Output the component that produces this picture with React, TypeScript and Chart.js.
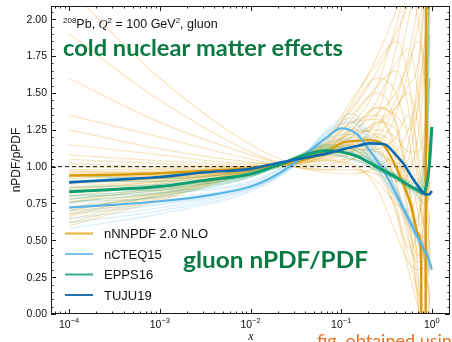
import React, { useEffect, useRef } from "react";
import { Chart, registerables } from "chart.js";

Chart.register(...registerables);

// ---------- axis settings ----------
const X_MIN = Math.pow(10, -4.2);
const X_MAX = Math.pow(10, 0.2);
const Y_MIN = 0;
const Y_MAX = 2.09;

const yTicks = [0, 0.25, 0.5, 0.75, 1.0, 1.25, 1.5, 1.75, 2.0];
const yTickLabels = ["0.00", "0.25", "0.50", "0.75", "1.00", "1.25", "1.50", "1.75", "2.00"];
const xTicks = [1e-4, 1e-3, 1e-2, 1e-1, 1];
const xTickExponents = ["\u22124", "\u22123", "\u22122", "\u22121", "0"];

// ---------- central curves ----------
const xCentral = [1e-4, 3e-4, 1e-3, 3e-3, 0.01, 0.02, 0.04, 0.07, 0.1, 0.15, 0.2, 0.3, 0.4, 0.5, 0.6, 0.7, 0.8, 0.9, 0.95, 1.0];
const nCTEQ15 = [0.723, 0.74, 0.765, 0.8, 0.865, 0.95, 1.08, 1.2, 1.26, 1.22, 1.12, 0.96, 0.82, 0.7, 0.6, 0.52, 0.45, 0.39, 0.35, 0.3];
const TUJU19 = [0.893, 0.91, 0.93, 0.96, 0.985, 1.025, 1.06, 1.09, 1.115, 1.14, 1.158, 1.152, 1.08, 1.01, 0.93, 0.87, 0.825, 0.81, 0.815, 0.835];
const EPPS16 = [0.83, 0.845, 0.865, 0.905, 0.95, 1.01, 1.08, 1.11, 1.1, 1.07, 1.03, 0.97, 0.93, 0.89, 0.86, 0.84, 0.82, 0.92, 1.05, 1.27];

const xNNPDF = [1e-4, 3e-4, 1e-3, 3e-3, 0.01, 0.02, 0.04, 0.07, 0.1, 0.15, 0.2, 0.3, 0.4, 0.5, 0.6, 0.7, 0.76, 0.8, 0.84, 0.87, 0.92, 1.0];
const nNNPDF20 = [0.94, 0.945, 0.955, 0.97, 0.99, 1.01, 1.05, 1.1, 1.16, 1.175, 1.18, 1.14, 1.0, 0.86, 0.72, 0.55, 0.4, -4, -4, 5, 6, 6];

// ---------- replicas ----------
const xReplica = [1e-4, 1e-3, 1e-2, 0.03, 0.07, 0.13, 0.25, 0.4, 0.55, 0.7, 0.85, 0.95];

const nnpdfReplicas = [
  [0.62, 0.78, 0.95, 1.02, 1.12, 1.25, 1.4, 1.3, 0.9, 0.3, -0.5, -1],
  [0.7, 0.82, 0.97, 1.03, 1.08, 1.1, 1.05, 0.85, 0.6, 0.4, 0.9, 2.5],
  [0.85, 0.9, 0.98, 1.05, 1.2, 1.45, 1.7, 1.85, 1.6, 1.0, 0.2, -0.5],
  [1.05, 1.02, 1.0, 1.02, 1.05, 1.0, 0.9, 0.75, 0.7, 0.85, 1.3, 2.2],
  [0.9, 0.93, 0.99, 1.04, 1.15, 1.3, 1.35, 1.1, 0.7, 0.2, -0.3, -0.8],
  [1.9, 1.45, 1.1, 1.0, 0.98, 1.05, 1.2, 1.4, 1.55, 1.7, 2.3, 3],
  [0.75, 0.85, 0.97, 1.02, 1.06, 1.08, 1.0, 0.7, 0.4, 0.15, 0.1, 0.4],
  [0.98, 0.98, 1.0, 1.05, 1.18, 1.4, 1.6, 1.5, 1.2, 0.8, 0.6, 1.2],
  [0.8, 0.88, 0.98, 1.03, 1.1, 1.2, 1.15, 0.95, 1.05, 1.4, 1.9, 2.4],
  [1.15, 1.08, 1.02, 1.02, 1.04, 1.02, 0.85, 0.55, 0.35, 0.3, 0.5, 1],
  [0.66, 0.8, 0.96, 1.04, 1.14, 1.22, 1.3, 1.45, 1.75, 2.1, 2.5, 3],
  [0.88, 0.92, 0.99, 1.04, 1.12, 1.28, 1.55, 1.95, 2.2, 2.0, 1.5, 1],
  [1.0, 0.99, 1.0, 1.03, 1.08, 1.12, 1.1, 0.9, 0.55, 0.1, -0.5, -1],
  [0.72, 0.84, 0.98, 1.05, 1.15, 1.22, 1.25, 1.2, 1.1, 1.1, 1.3, 1.6],
  [1.35, 1.2, 1.05, 1.0, 0.98, 0.98, 0.95, 0.9, 0.95, 1.2, 1.7, 2.2],
  [0.82, 0.89, 0.98, 1.04, 1.16, 1.35, 1.5, 1.3, 0.8, 0.4, 0.3, 0.6],
  [0.95, 0.96, 0.99, 1.02, 1.05, 1.1, 1.25, 1.6, 2.0, 2.3, 2.5, 2.2],
  [0.64, 0.79, 0.97, 1.05, 1.1, 1.15, 1.1, 1.0, 0.95, 0.7, 0.3, 0.1],
  [1.08, 1.04, 1.01, 1.02, 1.08, 1.2, 1.45, 1.7, 1.8, 1.5, 0.9, 0.4],
  [0.78, 0.86, 0.97, 1.03, 1.12, 1.18, 1.2, 1.05, 0.65, 0.1, -0.3, 0.2],
  [0.92, 0.94, 0.99, 1.03, 1.1, 1.25, 1.4, 1.35, 1.25, 1.4, 1.8, 2.5],
  [1.6, 1.3, 1.08, 1.0, 0.96, 0.95, 1.0, 1.1, 1.25, 1.5, 1.9, 2.4],
  [0.86, 0.91, 0.98, 1.04, 1.13, 1.25, 1.2, 0.9, 0.5, 0.35, 0.6, 1.3],
  [0.68, 0.81, 0.97, 1.06, 1.2, 1.38, 1.65, 1.9, 2.1, 2.3, 2.4, 2.6],
  [1.02, 1.0, 1.0, 1.03, 1.07, 1.15, 1.3, 1.25, 0.9, 0.55, 0.4, 0.7],
  [0.76, 0.86, 0.98, 1.03, 1.09, 1.12, 1.05, 0.8, 0.6, 0.65, 1.0, 1.6],
  [0.96, 0.97, 1.0, 1.04, 1.14, 1.32, 1.55, 1.65, 1.4, 0.9, 0.5, 0.3],
  [0.6, 0.77, 0.96, 1.04, 1.16, 1.3, 1.32, 1.15, 0.85, 0.6, 0.7, 1.1],
  [1.25, 1.12, 1.03, 1.01, 1.02, 1.05, 1.15, 1.35, 1.65, 1.95, 2.2, 2.4],
  [0.84, 0.9, 0.98, 1.05, 1.18, 1.42, 1.75, 2.05, 2.3, 2.5, 2.4, 2.0],
  [0.94, 0.95, 0.99, 1.02, 1.04, 1.05, 0.95, 0.7, 0.3, 0.05, -0.2, -0.5],
  [0.7, 0.83, 0.98, 1.05, 1.12, 1.2, 1.28, 1.4, 1.5, 1.3, 0.9, 0.6],
  [2.2, 1.6, 1.15, 1.02, 1.0, 1.1, 1.35, 1.8, 2.2, 2.4, 2.6, 2.8],
  [0.9, 0.92, 0.98, 1.04, 1.1, 1.15, 1.05, 0.75, 0.45, 0.6, 1.2, 2.0],
  [0.93, 0.94, 0.98, 1.03, 1.12, 1.24, 1.36, 1.5, 1.7, 1.85, 1.6, 0.8],
  [0.97, 0.96, 0.99, 1.03, 1.09, 1.16, 1.22, 1.1, 0.8, 0.5, 0.2, 0.5],
  [0.67, 0.81, 0.97, 1.04, 1.11, 1.16, 1.12, 1.02, 1.15, 1.6, 2.2, 2.6],
  [0.89, 0.92, 0.98, 1.03, 1.08, 1.11, 1.12, 1.2, 1.35, 1.1, 0.5, 0.0],
];

const nctegReplicas = [
  [0.62, 0.7, 0.84, 1.01, 1.24, 1.33, 1.1, 0.85, 0.66, 0.52, 0.4, 0.3],
  [0.8, 0.82, 0.89, 1.03, 1.17, 1.19, 0.98, 0.8, 0.66, 0.55, 0.46, 0.4],
  [0.68, 0.74, 0.85, 1.0, 1.22, 1.3, 1.08, 0.84, 0.64, 0.5, 0.38, 0.28],
  [0.76, 0.79, 0.88, 1.04, 1.19, 1.22, 1.0, 0.79, 0.63, 0.53, 0.45, 0.38],
  [0.58, 0.68, 0.83, 1.0, 1.25, 1.36, 1.12, 0.86, 0.68, 0.54, 0.41, 0.33],
  [0.84, 0.84, 0.9, 1.04, 1.16, 1.18, 0.97, 0.78, 0.62, 0.5, 0.4, 0.35],
  [0.7, 0.75, 0.86, 1.02, 1.21, 1.27, 1.05, 0.83, 0.67, 0.54, 0.44, 0.36],
  [0.65, 0.72, 0.85, 1.01, 1.23, 1.31, 1.06, 0.81, 0.62, 0.48, 0.36, 0.26],
];

const eppsReplicas = [
  [0.76, 0.82, 0.93, 1.04, 1.13, 1.12, 1.02, 0.94, 0.88, 0.84, 0.95, 1.6],
  [0.9, 0.9, 0.96, 1.05, 1.09, 1.06, 0.98, 0.92, 0.87, 0.85, 0.82, 0.9],
  [0.8, 0.85, 0.94, 1.05, 1.12, 1.1, 1.01, 0.94, 0.89, 0.86, 1.05, 2.4],
  [0.86, 0.88, 0.95, 1.04, 1.1, 1.08, 0.99, 0.91, 0.85, 0.8, 0.75, 0.8],
  [0.72, 0.8, 0.93, 1.06, 1.15, 1.14, 1.03, 0.95, 0.9, 0.88, 1.2, 2.8],
  [0.94, 0.92, 0.97, 1.04, 1.08, 1.05, 0.97, 0.92, 0.88, 0.86, 0.86, 1.1],
  [0.83, 0.86, 0.95, 1.05, 1.11, 1.09, 1.0, 0.92, 0.86, 0.82, 0.8, 1.2],
  [0.78, 0.84, 0.94, 1.06, 1.14, 1.12, 1.01, 0.93, 0.87, 0.83, 0.92, 1.9],
];

// ---------- legend ----------
const legendLabels = ["nNNPDF 2.0 NLO", "nCTEQ15", "EPPS16", "TUJU19"];

const C_NNPDF_LINE = "#D99A08";
const C_NCTEQ = "#56B4E9";
const C_EPPS = "#0E9E72";
const C_TUJU = "#0A6BB0";
const legendColors = ["#EBB03A", "#7CC4EE", "#3AAE88", "#2272B4"];
const GREEN_TXT = "#0B7A42";

const toPts = (xs: number[], ys: number[]) => xs.map((x, i) => ({ x, y: ys[i] }));

function drawRuns(ctx: CanvasRenderingContext2D, x: number, y: number, runs: { t: string; f: string; dy?: number }[]) {
  let cx = x;
  for (const r of runs) {
    ctx.font = r.f;
    ctx.fillText(r.t, cx, y + (r.dy || 0));
    cx += ctx.measureText(r.t).width;
  }
  return cx;
}

function fitText(ctx: CanvasRenderingContext2D, text: string, font: string, x: number, y: number, width: number) {
  ctx.save();
  ctx.font = font;
  const w = ctx.measureText(text).width;
  ctx.translate(x, y);
  ctx.scale(width / w, 1);
  ctx.fillText(text, 0, 0);
  ctx.restore();
}

const overlayPlugin = {
  id: "overlay",
  afterDraw(chart: any) {
    const ctx: CanvasRenderingContext2D = chart.ctx;
    const xs = chart.scales.x;
    const ys = chart.scales.y;
    const { left, right, top, bottom } = chart.chartArea;
    ctx.save();
    ctx.strokeStyle = "#1a1a1a";
    ctx.lineWidth = 1;
    // frame
    ctx.strokeRect(Math.round(left) + 0.5, Math.round(top) + 0.5, Math.round(right - left) - 1, Math.round(bottom - top) - 1);

    const tick = (x1: number, y1: number, x2: number, y2: number) => {
      ctx.beginPath();
      ctx.moveTo(x1, y1);
      ctx.lineTo(x2, y2);
      ctx.stroke();
    };
    // y ticks
    for (let k = 0; k <= 41; k++) {
      const v = k * 0.05;
      if (v > Y_MAX) break;
      const major = k % 5 === 0;
      const len = major ? 5 : 2.5;
      const py = Math.round(ys.getPixelForValue(v)) + 0.5;
      tick(left, py, left + len, py);
      tick(right, py, right - len, py);
    }
    // x ticks
    for (let e = -5; e <= 0; e++) {
      for (let m = 1; m <= 9; m++) {
        const v = m * Math.pow(10, e);
        if (v < X_MIN || v > X_MAX) continue;
        const len = m === 1 ? 5 : 2.5;
        const px = Math.round(xs.getPixelForValue(v)) + 0.5;
        tick(px, bottom, px, bottom - len);
        tick(px, top, px, top + len);
      }
    }

    ctx.fillStyle = "#111";
    // y tick labels
    ctx.font = '10.5px "Liberation Sans"';
    ctx.textAlign = "right";
    ctx.textBaseline = "middle";
    yTicks.forEach((v, i) => {
      ctx.fillText(yTickLabels[i], left - 4, ys.getPixelForValue(v) + 0.5);
    });
    // x tick labels
    ctx.textBaseline = "alphabetic";
    ctx.textAlign = "left";
    xTicks.forEach((v, i) => {
      const px = xs.getPixelForValue(v);
      ctx.font = '10.5px "Liberation Sans"';
      const w1 = ctx.measureText("10").width;
      ctx.font = '7.5px "Liberation Sans"';
      const w2 = ctx.measureText(xTickExponents[i]).width;
      const x0 = px - (w1 + w2) / 2;
      drawRuns(ctx, x0, 328, [
        { t: "10", f: '10.5px "Liberation Sans"' },
        { t: xTickExponents[i], f: '7.5px "Liberation Sans"', dy: -5 },
      ]);
    });
    // axis labels
    ctx.font = 'italic 12px "Liberation Serif"';
    ctx.textAlign = "center";
    ctx.fillText("x", (left + right) / 2 + 0.5, 340);
    ctx.save();
    ctx.translate(17, (top + bottom) / 2);
    ctx.rotate(-Math.PI / 2);
    ctx.font = '12px "Liberation Sans"';
    ctx.textBaseline = "middle";
    ctx.fillText("nPDF/pPDF", 0, 0);
    ctx.restore();

    // header text
    ctx.textAlign = "left";
    ctx.textBaseline = "alphabetic";
    ctx.fillStyle = "#111";
    drawRuns(ctx, 63, 28, [
      { t: "208", f: '8px "Liberation Sans"', dy: -5 },
      { t: "Pb, ", f: '12.5px "Liberation Sans"' },
      { t: "Q", f: 'italic 12.5px "Liberation Serif"' },
      { t: "2", f: '8px "Liberation Sans"', dy: -5 },
      { t: " = 100 GeV", f: '12.5px "Liberation Sans"' },
      { t: "2", f: '8px "Liberation Sans"', dy: -5 },
      { t: ", gluon", f: '12.5px "Liberation Sans"' },
    ]);

    // green titles
    ctx.fillStyle = GREEN_TXT;
    fitText(ctx, "cold nuclear matter effects", 'bold 22px "Lato"', 63, 56, 280);
    fitText(ctx, "gluon nPDF/PDF", 'bold 22px "Lato"', 183, 268, 185);

    // credit text (cut off at bottom)
    ctx.fillStyle = "#E4742A";
    ctx.font = '18px "Lato"';
    ctx.fillText("fig. obtained using nPDF tools", 317, 347);

    // legend
    const rowsY = [233.5, 254, 274.5, 295];
    legendLabels.forEach((lab, i) => {
      ctx.strokeStyle = legendColors[i];
      ctx.lineWidth = 2;
      ctx.beginPath();
      ctx.moveTo(65, rowsY[i]);
      ctx.lineTo(93, rowsY[i]);
      ctx.stroke();
      ctx.fillStyle = "#111";
      ctx.font = '13px "Liberation Sans"';
      ctx.textBaseline = "middle";
      ctx.fillText(lab, 104, rowsY[i] + 1);
    });
    ctx.restore();
  },
};

export default function App() {
  const ref = useRef<HTMLCanvasElement | null>(null);
  useEffect(() => {
    if (!ref.current) return;
    const datasets: any[] = [];
    datasets.push({
      data: toPts(xCentral, TUJU19),
      borderColor: C_TUJU,
      borderWidth: 2.6,
      order: 0,
    });
    datasets.push({
      data: toPts(xCentral, EPPS16),
      borderColor: C_EPPS,
      borderWidth: 3,
      order: 1,
    });
    datasets.push({
      data: toPts(xCentral, nCTEQ15),
      borderColor: C_NCTEQ,
      borderWidth: 2.2,
      order: 2,
    });
    datasets.push({
      data: toPts(xNNPDF, nNNPDF20),
      borderColor: C_NNPDF_LINE,
      borderWidth: 2.4,
      order: 3,
    });
    datasets.push({
      data: [
        { x: X_MIN, y: 1 },
        { x: X_MAX, y: 1 },
      ],
      borderColor: "#111",
      borderWidth: 1,
      borderDash: [4, 3],
      cubicInterpolationMode: "default",
      tension: 0,
      order: 4,
    });
    eppsReplicas.forEach((r) =>
      datasets.push({ data: toPts(xReplica, r), borderColor: "rgba(14,158,114,0.28)", borderWidth: 1.2, order: 5 })
    );
    nctegReplicas.forEach((r) =>
      datasets.push({ data: toPts(xReplica, r), borderColor: "rgba(86,180,233,0.22)", borderWidth: 1.2, order: 6 })
    );
    nnpdfReplicas.forEach((r) =>
      datasets.push({ data: toPts(xReplica, r), borderColor: "rgba(227,162,26,0.28)", borderWidth: 1.2, order: 7 })
    );

    const chart = new Chart(ref.current, {
      type: "line",
      data: { datasets },
      options: {
        animation: false,
        responsive: false,
        devicePixelRatio: 1,
        layout: { padding: { left: 51, top: 6, right: 2, bottom: 28 } },
        elements: {
          point: { radius: 0 },
          line: { cubicInterpolationMode: "monotone", tension: 0.4, fill: false },
        },
        scales: {
          x: { type: "logarithmic", min: X_MIN, max: X_MAX, display: false },
          y: { type: "linear", min: Y_MIN, max: Y_MAX, display: false },
        },
        plugins: { legend: { display: false }, tooltip: { enabled: false } },
      } as any,
      plugins: [overlayPlugin],
    });
    return () => chart.destroy();
  }, []);
  return (
    <div style={{ position: "absolute", left: 0, top: 0, width: 452, height: 342, background: "#fff" }}>
      <canvas ref={ref} width={452} height={342} style={{ display: "block" }} />
    </div>
  );
}
